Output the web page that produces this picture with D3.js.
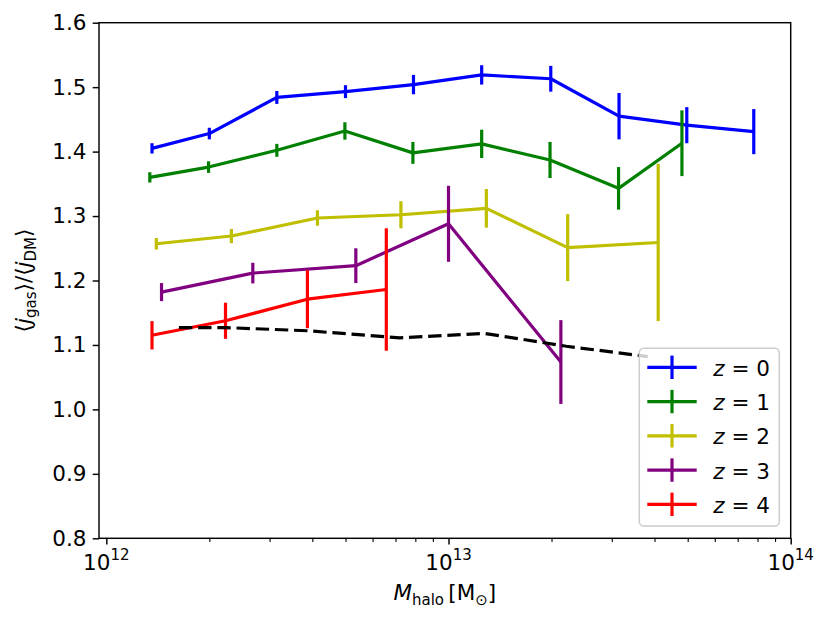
<!DOCTYPE html>
<html lang="en">
<head>
<meta charset="UTF-8">
<title>Gas vs DM specific angular momentum</title>
<script src="https://d3js.org/d3.v7.min.js"></script>
<style>
  body { margin: 0; background: #fff; }
  text { font-family: "DejaVu Sans", sans-serif; fill: #000; }
</style>
</head>
<body>
<svg id="chart"></svg>
<script>
// values: halo mass bins, <j_gas>/<j_DM>, half error bars
const redshifts = [0, 1, 2, 3, 4];

const massZ0 = [1.36e12, 2.0e12, 3.15e12, 5.0e12, 7.9e12, 1.25e13, 1.99e13, 3.15e13, 4.97e13, 7.8e13];
const ratioZ0 = [1.405, 1.428, 1.484, 1.493, 1.504, 1.519, 1.513, 1.455, 1.441, 1.431];
const errZ0 = [0.008, 0.009, 0.010, 0.010, 0.015, 0.015, 0.020, 0.036, 0.028, 0.035];

const massZ1 = [1.34e12, 1.99e12, 3.15e12, 4.98e12, 7.87e12, 1.25e13, 1.98e13, 3.14e13, 4.81e13];
const ratioZ1 = [1.360, 1.376, 1.402, 1.432, 1.398, 1.412, 1.387, 1.343, 1.413];
const errZ1 = [0.008, 0.009, 0.010, 0.0135, 0.017, 0.022, 0.028, 0.033, 0.051];

const massZ2 = [1.40e12, 2.32e12, 4.14e12, 7.26e12, 1.29e13, 2.23e13, 4.10e13];
const ratioZ2 = [1.257, 1.269, 1.297, 1.302, 1.312, 1.251, 1.259];
const errZ2 = [0.009, 0.011, 0.012, 0.021, 0.030, 0.052, 0.122];

const massZ3 = [1.45e12, 2.68e12, 5.36e12, 1.0e13, 2.13e13];
const ratioZ3 = [1.182, 1.2115, 1.223, 1.288, 1.0735];
const errZ3 = [0.014, 0.016, 0.027, 0.059, 0.065];

const massZ4 = [1.36e12, 2.23e12, 3.87e12, 6.58e12];
const ratioZ4 = [1.115, 1.1375, 1.171, 1.186];
const errZ4 = [0.022, 0.028, 0.045, 0.095];

// dashed reference curve
const massRef = [1.63e12, 2.22e12, 3.87e12, 7.2e12, 1.27e13, 2.21e13, 3.82e13];
const ratioRef = [1.127, 1.127, 1.122, 1.111, 1.118, 1.098, 1.082];

const yTicks = [0.8, 0.9, 1.0, 1.1, 1.2, 1.3, 1.4, 1.5, 1.6];
const xMajor = [1e12, 1e13, 1e14];
const xExponents = ["12", "13", "14"];

const colors = ["#0000ff", "#008000", "#bfbf00", "#800080", "#ff0000"];

const width = 831, height = 622;
const margin = { top: 22.7, right: 40.3, bottom: 83.7, left: 99 };
const fs = 21.5, subFs = 15;

const svg = d3.select("#chart").attr("width", width).attr("height", height);

const x = d3.scaleLog()
    .domain([9.52e11, 1e14])
    .range([margin.left, width - margin.right]);
const y = d3.scaleLinear()
    .domain([0.8, 1.6])
    .range([height - margin.bottom, margin.top]);

const series = [
    { z: 0, mass: massZ0, ratio: ratioZ0, err: errZ0 },
    { z: 1, mass: massZ1, ratio: ratioZ1, err: errZ1 },
    { z: 2, mass: massZ2, ratio: ratioZ2, err: errZ2 },
    { z: 3, mass: massZ3, ratio: ratioZ3, err: errZ3 },
    { z: 4, mass: massZ4, ratio: ratioZ4, err: errZ4 }
].map((s, i) => ({
    z: redshifts[i],
    color: colors[i],
    points: s.mass.map((m, j) => ({ m: m, r: s.ratio[j], e: s.err[j] }))
}));

const line = d3.line().x(d => x(d.m)).y(d => y(d.r));
const lw = 3.2;

// series with error bars
series.forEach(s => {
    const g = svg.append("g");
    g.append("path")
        .datum(s.points)
        .attr("fill", "none")
        .attr("stroke", s.color)
        .attr("stroke-width", lw)
        .attr("stroke-linejoin", "round")
        .attr("d", line);
    g.selectAll("line")
        .data(s.points)
        .join("line")
        .attr("x1", d => x(d.m)).attr("x2", d => x(d.m))
        .attr("y1", d => y(d.r - d.e)).attr("y2", d => y(d.r + d.e))
        .attr("stroke", s.color)
        .attr("stroke-width", lw);
});

// dashed curve
svg.append("path")
    .datum(massRef.map((m, i) => ({ m: m, r: ratioRef[i] })))
    .attr("fill", "none")
    .attr("stroke", "#000")
    .attr("stroke-width", lw)
    .attr("stroke-dasharray", "13.4,5.8")
    .attr("d", line);

// axes
const yAxis = svg.append("g")
    .attr("transform", `translate(${margin.left},0)`)
    .call(d3.axisLeft(y).tickValues(yTicks).tickFormat(d3.format(".1f"))
        .tickSize(6.3).tickPadding(6.3).tickSizeOuter(0));
yAxis.select(".domain").remove();
yAxis.selectAll(".tick line").attr("stroke-width", 1.45);
yAxis.selectAll(".tick text").style("font-size", fs + "px")
    .style("font-family", "DejaVu Sans");

const xMinor = [];
[1e12, 1e13].forEach(dec => {
    for (let k = 2; k <= 9; k++) xMinor.push(k * dec);
});

const xAxis = svg.append("g")
    .attr("transform", `translate(0,${height - margin.bottom})`)
    .call(d3.axisBottom(x).tickValues(xMajor).tickFormat("").tickSize(6.3).tickSizeOuter(0));
xAxis.select(".domain").remove();
xAxis.selectAll(".tick line").attr("stroke-width", 1.45);

const xAxisMinor = svg.append("g")
    .attr("transform", `translate(0,${height - margin.bottom})`)
    .call(d3.axisBottom(x).tickValues(xMinor).tickFormat("").tickSize(3.6).tickSizeOuter(0));
xAxisMinor.select(".domain").remove();
xAxisMinor.selectAll(".tick line").attr("stroke-width", 1.1);

xMajor.forEach((v, i) => {
    const t = svg.append("text")
        .attr("x", x(v))
        .attr("y", height - margin.bottom + 31.5)
        .attr("text-anchor", "middle")
        .style("font-size", fs + "px");
    t.append("tspan").text("10");
    t.append("tspan").attr("dy", -9.5).style("font-size", subFs + "px").text(xExponents[i]);
});

// spines
svg.append("rect")
    .attr("x", margin.left).attr("y", margin.top)
    .attr("width", width - margin.left - margin.right)
    .attr("height", height - margin.top - margin.bottom)
    .attr("fill", "none")
    .attr("stroke", "#000")
    .attr("stroke-width", 1.45);

// axis labels
const xl = svg.append("text")
    .attr("x", (margin.left + width - margin.right) / 2)
    .attr("y", 600)
    .attr("text-anchor", "middle")
    .style("font-size", fs + "px");
xl.append("tspan").style("font-style", "italic").text("M");
xl.append("tspan").attr("dy", 4.5).style("font-size", subFs + "px").text("halo");
xl.append("tspan").attr("dy", -4.5).text("\u2009[M");
xl.append("tspan").attr("dy", 4.5).style("font-size", subFs + "px").text("\u2299");
xl.append("tspan").attr("dy", -4.5).text("]");

const yl = svg.append("text")
    .attr("transform", `translate(31,${(margin.top + height - margin.bottom) / 2}) rotate(-90)`)
    .attr("text-anchor", "middle")
    .style("font-size", fs + "px");
yl.append("tspan").text("\u27e8");
yl.append("tspan").style("font-style", "italic").text("j");
yl.append("tspan").attr("dy", 4.5).style("font-size", subFs + "px").text("gas");
yl.append("tspan").attr("dy", -4.5).text("\u27e9/\u27e8");
yl.append("tspan").style("font-style", "italic").text("j");
yl.append("tspan").attr("dy", 4.5).style("font-size", subFs + "px").text("DM");
yl.append("tspan").attr("dy", -4.5).text("\u27e9");

// legend
const leg = svg.append("g");
leg.append("rect")
    .attr("x", 639.3).attr("y", 348.3)
    .attr("width", 140).attr("height", 177.7)
    .attr("rx", 4.5)
    .attr("fill", "#fff").attr("fill-opacity", 0.8)
    .attr("stroke", "#cccccc").attr("stroke-width", 1.5);

series.forEach((s, i) => {
    const ry = 367.3 + i * 34.25;
    leg.append("line")
        .attr("x1", 647.3).attr("x2", 696.7)
        .attr("y1", ry).attr("y2", ry)
        .attr("stroke", s.color).attr("stroke-width", lw);
    leg.append("line")
        .attr("x1", 672).attr("x2", 672)
        .attr("y1", ry - 11.7).attr("y2", ry + 11.7)
        .attr("stroke", s.color).attr("stroke-width", lw);
    const t = leg.append("text")
        .attr("x", 713.3).attr("y", ry + 8.5)
        .style("font-size", fs + "px");
    t.append("tspan").style("font-style", "italic").text("z");
    t.append("tspan").text(" = " + s.z);
});
</script>
</body>
</html>
